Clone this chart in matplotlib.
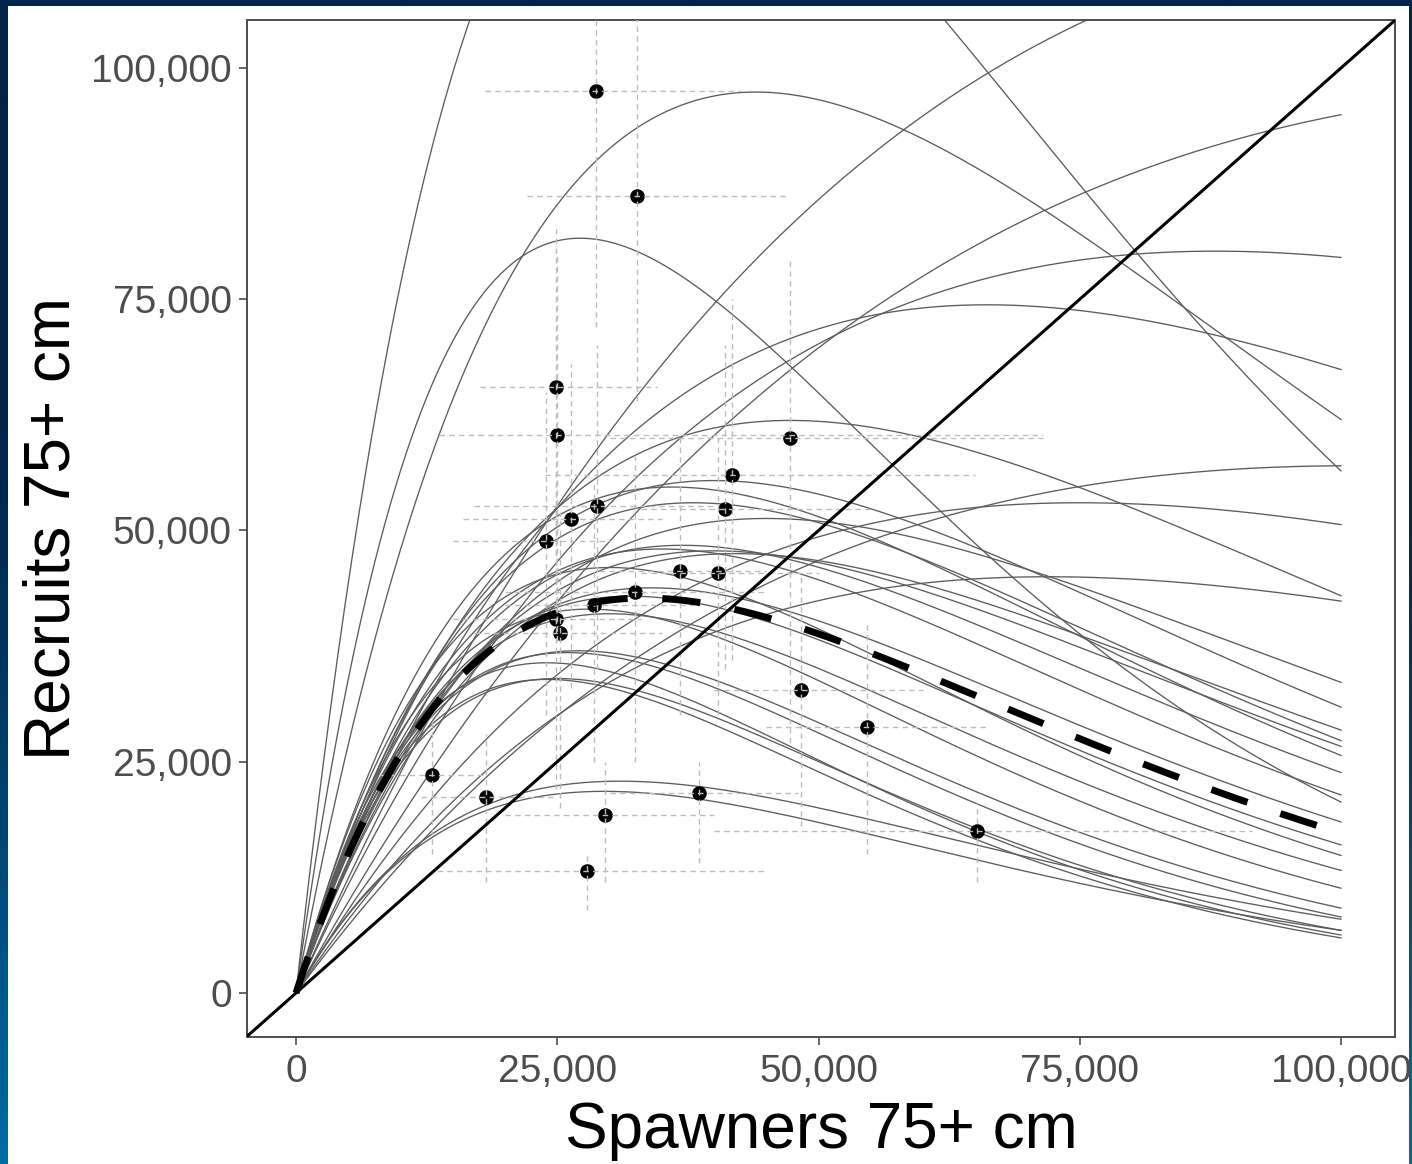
import numpy as np
import matplotlib
matplotlib.use("Agg")
import matplotlib.pyplot as plt
from matplotlib.patches import Rectangle
from matplotlib.ticker import FuncFormatter

plt.rcParams['font.family'] = ['Liberation Sans', 'DejaVu Sans']

# Ricker stock-recruit curves, one per posterior draw: spawners at peak recruitment and peak recruits
smax = [34.5, 27.2, 44.0, 122.0, 130.0, 88.0, 66.1, 101.0, 47.3, 75.0, 72.0,
        45.0, 40.0, 42.0, 38.0, 40.0, 36.0, 37.0, 35.0, 34.0, 32.0, 30.0, 30.0,
        28.0, 29.5, 27.0, 26.0, 31.0, 25.0, 24.0, 24.0]
rmax = [130.0, 81.6, 97.4, 116.0, 98.0, 80.2, 74.4, 57.0, 61.9, 53.0, 45.0,
        51.3, 55.4, 47.5, 53.0, 47.8, 54.7, 48.4, 48.0, 43.8, 42.9, 46.0, 41.0,
        41.5, 21.8, 37.0, 36.8, 22.9, 34.0, 35.7, 33.9]

# Median curve
smax_med = 33.3
rmax_med = 42.7

# Annual spawner / recruit estimates (thousands of fish) with interval bounds
spawners = [28.7, 32.6, 24.9, 25.0, 47.3, 41.7, 41.1, 28.8, 26.3, 23.9, 36.7, 40.4,
            32.4, 28.5, 24.9, 25.3, 48.3, 54.6, 13.0, 18.2, 38.6, 29.6, 27.8, 65.2]
recruits = [97.5, 86.2, 65.5, 60.3, 60.0, 56.0, 52.3, 52.6, 51.2, 48.9, 45.6, 45.4,
            43.3, 41.9, 40.4, 38.9, 32.8, 28.8, 23.6, 21.2, 21.6, 19.2, 13.2, 17.5]
s_lo = [18.1, 22.1, 17.6, 13.7, 30.0, 23.8, 33.0, 17.0, 16.0, 15.0, 29.0, 33.0,
        20.0, 20.0, 15.0, 17.0, 40.0, 45.0, 8.0, 12.0, 30.0, 20.0, 13.5, 40.0]
s_hi = [42.6, 47.0, 34.5, 71.5, 71.5, 65.0, 55.0, 40.0, 35.0, 30.0, 45.0, 50.0,
        45.0, 38.0, 33.0, 35.0, 60.0, 66.0, 18.0, 25.0, 48.0, 40.0, 45.0, 91.5]
r_lo = [72.0, 64.0, 40.0, 38.0, 27.0, 36.0, 35.0, 35.0, 33.0, 30.0, 30.0, 30.0,
        25.0, 25.0, 22.0, 20.0, 18.0, 15.0, 15.0, 12.0, 14.0, 12.0, 9.0, 12.0]
r_hi = [115.0, 115.0, 83.0, 80.0, 79.6, 75.0, 70.0, 70.0, 68.0, 65.0, 60.0, 60.0,
        58.0, 55.0, 55.0, 52.0, 45.0, 40.0, 30.0, 28.0, 25.0, 25.0, 15.0, 20.5]

x_ticks = [0, 25000, 50000, 75000, 100000]
y_ticks = [0, 25000, 50000, 75000, 100000]


def ricker(s, s_peak, r_peak):
    b = 1.0 / s_peak
    a = r_peak * np.e / s_peak
    return a * s * np.exp(-b * s)


W, H = 1412, 1164
fig = plt.figure(figsize=(W / 100, H / 100), dpi=100)

# Slide-style framed background
yy = np.linspace(0, 1, 400)[:, None]
t = np.clip((yy - 0.35) / 0.65, 0, 1) ** 1.3
navy = np.array([0, 36, 74]) / 255
blue = np.array([0, 108, 163]) / 255
grad = (navy[None, None, :] * (1 - t[..., None]) + blue[None, None, :] * t[..., None])
grad = np.repeat(grad, 2, axis=1)

bg = fig.add_axes([0, 0, 1, 1], zorder=-10)
bg.imshow(grad, aspect='auto', extent=[0, 1, 0, 1], origin='upper')
bg.axis('off')
fig.patches.append(Rectangle((8 / W, 0), (1409 - 8) / W, (H - 6) / H,
                             transform=fig.transFigure, facecolor='white',
                             edgecolor='none', zorder=-5))

ax = fig.add_axes([247 / W, 1 - 1037 / H, (1395 - 247) / W, (1037 - 20) / H])
ax.set_facecolor('white')

s = np.linspace(0, 100000, 600)
for sp, rp in zip(smax, rmax):
    ax.plot(s, ricker(s, sp * 1000, rp * 1000), color='#5c5c5c', lw=0.95, zorder=2)

sp_arr = np.array(spawners) * 1000
rc_arr = np.array(recruits) * 1000
ax.scatter(sp_arr, rc_arr, s=90, color='black', zorder=3)
for x0, y0, xl, xh, yl, yh in zip(sp_arr, rc_arr, s_lo, s_hi, r_lo, r_hi):
    ax.plot([xl * 1000, xh * 1000], [y0, y0], color='#bdbdbd', lw=1.0,
            dashes=(4, 3), zorder=4)
    ax.plot([x0, x0], [yl * 1000, yh * 1000], color='#bdbdbd', lw=1.0,
            dashes=(4, 3), zorder=4)

ax.axline((0, 0), slope=1, color='black', lw=2.2, zorder=5)
ax.plot(s, ricker(s, smax_med * 1000, rmax_med * 1000), color='black', lw=5,
        dashes=(5.5, 5), solid_capstyle='butt', dash_capstyle='butt', zorder=6)

ax.set_xlim(-4689, 105167)
ax.set_ylim(-4757, 105189)
ax.set_xticks(x_ticks)
ax.set_yticks(y_ticks)
fmt = FuncFormatter(lambda v, p: f"{int(v):,}")
ax.xaxis.set_major_formatter(fmt)
ax.yaxis.set_major_formatter(fmt)
ax.tick_params(axis='both', labelsize=28, colors='#4d4d4d', length=6, width=1.2,
               labelcolor='#4d4d4d')
ax.tick_params(axis='x', pad=6)
ax.tick_params(axis='y', pad=5)
for sp in ax.spines.values():
    sp.set_color('#4d4d4d')
    sp.set_linewidth(1.4)
ax.set_xlabel('Spawners 75+ cm', fontsize=46, color='black', labelpad=8)
ax.set_ylabel('Recruits 75+ cm', fontsize=46, color='black', labelpad=6)

# Right frame strip drawn over the axes so long tick labels are cut at the frame
rs = fig.add_axes([1409 / W, 0, 1 - 1409 / W, 1], zorder=10)
rs.imshow(grad, aspect='auto', extent=[0, 1, 0, 1], origin='upper')
rs.axis('off')

fig.savefig('out.png', dpi=100)
